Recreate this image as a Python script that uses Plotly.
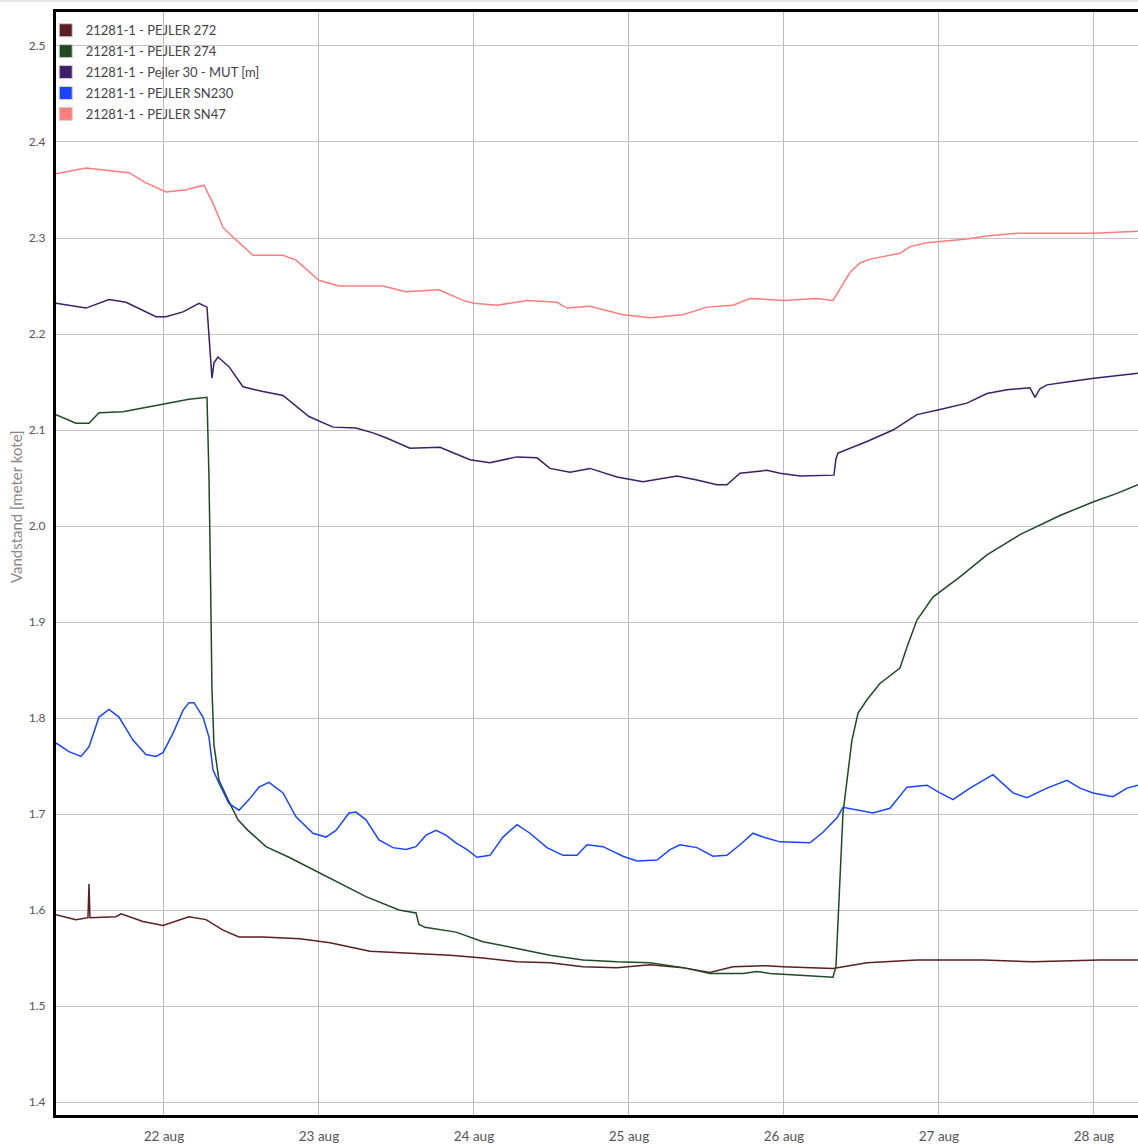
import pandas as pd
import plotly.graph_objects as go

START = pd.Timestamp("2021-08-21 00:00")

SERIES_NAMES = [
    "21281-1 - PEJLER 272",
    "21281-1 - PEJLER 274",
    "21281-1 - Pejler 30 - MUT [m]",
    "21281-1 - PEJLER SN230",
    "21281-1 - PEJLER SN47",
]
SERIES_COLORS = ["#5a1f22", "#1f4a24", "#3b1f68", "#1a45ff", "#ff7c7c"]

# Readings: hours after 21 aug 00:00, water level in metres
p272_h = [7.28, 10.37, 12.23, 12.39, 12.54, 16.57, 17.34, 20.75, 23.85, 27.87, 30.50,
          33.14, 35.61, 39.33, 45.06, 49.70, 55.90, 62.09, 68.28, 73.39, 78.66, 83.77,
          88.88, 94.14, 99.25, 104.36, 108.54, 112.10, 117.37, 119.85, 125.11, 127.59,
          132.85, 140.59, 150.81, 158.55, 168.93, 174.81]
p272_v = [1.595, 1.590, 1.592, 1.627, 1.592, 1.593, 1.596, 1.588, 1.584, 1.593, 1.590,
          1.579, 1.572, 1.572, 1.570, 1.566, 1.557, 1.555, 1.553, 1.550, 1.546, 1.545,
          1.541, 1.540, 1.543, 1.540, 1.535, 1.541, 1.542, 1.541, 1.540, 1.539,
          1.545, 1.548, 1.548, 1.546, 1.548, 1.548]

p274_h = [7.28, 10.37, 12.39, 13.94, 17.65, 21.68, 24.31, 27.87, 30.66, 30.97, 31.20,
          31.43, 31.74, 32.52, 33.91, 35.46, 37.01, 39.79, 43.35, 48.00, 51.10, 55.28,
          60.39, 63.02, 63.48, 64.41, 69.21, 73.39, 78.66, 83.77, 88.88, 94.14, 99.25,
          104.36, 108.54, 113.65, 115.82, 117.83, 122.48, 127.59, 128.05, 128.67,
          129.14, 129.76, 130.53, 131.46, 132.85, 134.86, 137.96, 139.05, 140.59,
          143.07, 147.25, 151.43, 156.54, 162.74, 167.85, 171.56, 174.81]
p274_v = [2.116, 2.107, 2.107, 2.118, 2.119, 2.124, 2.128, 2.132, 2.134, 2.050, 1.950,
          1.830, 1.772, 1.735, 1.715, 1.694, 1.683, 1.666, 1.655, 1.639, 1.628, 1.614,
          1.600, 1.597, 1.585, 1.582, 1.577, 1.567, 1.560, 1.553, 1.548, 1.546, 1.545,
          1.540, 1.534, 1.534, 1.536, 1.534, 1.532, 1.530, 1.541, 1.631,
          1.701, 1.735, 1.777, 1.805, 1.819, 1.836, 1.852, 1.874, 1.902,
          1.926, 1.947, 1.970, 1.991, 2.011, 2.025, 2.034, 2.043]

p30_h = [7.28, 11.92, 15.48, 18.12, 22.76, 24.31, 26.94, 29.42, 30.66, 30.97, 31.28,
         31.43, 31.74, 32.36, 34.06, 36.23, 39.33, 42.43, 46.45, 50.17, 53.73, 56.36,
         58.37, 62.09, 66.74, 71.38, 74.48, 78.66, 81.76, 83.77, 86.87, 89.96, 94.14,
         98.17, 103.43, 106.53, 109.63, 111.17, 113.19, 117.37, 119.38, 122.48, 127.74,
         128.05, 128.36, 130.22, 132.85, 136.88, 140.59, 144.00, 148.34, 151.43, 154.53,
         158.09, 158.86, 159.64, 160.72, 163.82, 168.00, 174.81]
p30_v = [2.232, 2.227, 2.236, 2.233, 2.218, 2.218, 2.223, 2.232, 2.228, 2.200, 2.170,
         2.154, 2.170, 2.176, 2.166, 2.145, 2.140, 2.136, 2.114, 2.103, 2.102, 2.097,
         2.092, 2.081, 2.082, 2.069, 2.066, 2.072, 2.071, 2.060, 2.056, 2.060, 2.051,
         2.046, 2.052, 2.048, 2.043, 2.043, 2.055, 2.058, 2.055, 2.052, 2.053,
         2.070, 2.076, 2.081, 2.088, 2.100, 2.116, 2.121, 2.128, 2.138, 2.142,
         2.144, 2.134, 2.143, 2.147, 2.150, 2.154, 2.159]

sn230_h = [7.28, 9.29, 11.15, 12.39, 13.94, 15.48, 17.03, 19.20, 21.21, 22.76, 23.85,
           25.39, 26.94, 27.87, 28.65, 30.04, 30.97, 31.59, 32.52, 34.06, 35.61, 37.16,
           38.71, 40.26, 42.43, 44.44, 47.07, 49.08, 50.63, 52.65, 53.73, 55.28, 57.29,
           59.46, 61.47, 63.02, 64.57, 66.12, 67.66, 69.21, 70.92, 72.46, 74.48, 76.49,
           78.66, 80.67, 83.30, 85.78, 87.95, 89.50, 91.98, 95.07, 97.24, 100.34,
           102.35, 103.90, 106.53, 109.01, 111.17, 113.19, 115.20, 116.75, 119.38,
           124.03, 126.04, 128.21, 129.14, 131.77, 133.78, 136.41, 139.05, 142.14,
           144.15, 146.17, 148.80, 152.36, 155.46, 157.63, 160.72, 163.82, 165.83,
           167.85, 170.94, 173.11, 174.81]
sn230_v = [1.774, 1.765, 1.760, 1.770, 1.801, 1.809, 1.801, 1.777, 1.762, 1.760, 1.764,
           1.784, 1.808, 1.816, 1.816, 1.801, 1.780, 1.746, 1.732, 1.711, 1.704, 1.715,
           1.728, 1.733, 1.722, 1.697, 1.680, 1.676, 1.683, 1.701, 1.702, 1.694, 1.673,
           1.665, 1.663, 1.666, 1.678, 1.683, 1.678, 1.670, 1.663, 1.655, 1.657, 1.676,
           1.689, 1.680, 1.665, 1.657, 1.657, 1.668, 1.666, 1.656, 1.651, 1.652,
           1.663, 1.668, 1.665, 1.656, 1.657, 1.668, 1.680, 1.676, 1.671,
           1.670, 1.681, 1.696, 1.707, 1.704, 1.701, 1.706, 1.728, 1.730,
           1.722, 1.715, 1.727, 1.741, 1.722, 1.717, 1.727, 1.735, 1.727,
           1.722, 1.718, 1.727, 1.730]

sn47_h = [7.28, 11.92, 15.64, 18.58, 21.06, 24.31, 27.25, 30.19, 31.59, 33.14, 35.15,
          37.78, 42.43, 44.44, 48.00, 51.10, 57.91, 61.47, 66.58, 70.30, 72.00, 75.56,
          80.21, 84.85, 86.40, 89.96, 95.07, 99.25, 104.36, 108.08, 112.10, 114.74,
          120.00, 125.11, 127.59, 129.14, 130.22, 131.77, 133.32, 137.96, 139.51,
          142.14, 144.00, 148.34, 151.43, 156.08, 168.00, 174.81]
sn47_v = [2.367, 2.373, 2.370, 2.368, 2.358, 2.348, 2.350, 2.355, 2.336, 2.311, 2.298,
          2.282, 2.282, 2.277, 2.256, 2.250, 2.250, 2.244, 2.246, 2.235, 2.232, 2.230,
          2.235, 2.233, 2.227, 2.229, 2.220, 2.217, 2.220, 2.228, 2.230, 2.237,
          2.235, 2.237, 2.235, 2.253, 2.264, 2.274, 2.278, 2.284, 2.291,
          2.295, 2.296, 2.299, 2.302, 2.305, 2.305, 2.307]

SERIES_HOURS = [p272_h, p274_h, p30_h, sn230_h, sn47_h]
SERIES_VALUES = [p272_v, p274_v, p30_v, sn230_v, sn47_v]

TICK_DAYS = [22, 23, 24, 25, 26, 27, 28]
TICK_LABELS = ["22 aug", "23 aug", "24 aug", "25 aug", "26 aug", "27 aug", "28 aug"]
Y_TICKS = [1.4, 1.5, 1.6, 1.7, 1.8, 1.9, 2.0, 2.1, 2.2, 2.3, 2.4, 2.5]


def to_time(hours):
    return START + pd.to_timedelta(hours, unit="h")


fig = go.Figure()

for name, color, hrs, vals in zip(SERIES_NAMES, SERIES_COLORS, SERIES_HOURS, SERIES_VALUES):
    fig.add_trace(go.Scatter(
        x=to_time(hrs), y=vals, mode="lines", name=name,
        line=dict(color=color, width=1.5), showlegend=False, legendgroup=name,
    ))

# square swatches for the legend
for name, color in zip(SERIES_NAMES, SERIES_COLORS):
    fig.add_trace(go.Scatter(
        x=[None], y=[None], mode="markers", name=name, legendgroup=name,
        marker=dict(symbol="square", size=13, color=color,
                    line=dict(color="#d0d0d0", width=1)),
    ))

tick_times = [START + pd.Timedelta(days=d - 21) for d in TICK_DAYS]

fig.update_layout(
    width=1138, height=1144,
    margin=dict(l=56, r=0, t=12, b=29),
    paper_bgcolor="white", plot_bgcolor="white",
    font=dict(family="Lato, 'Source Sans Pro', sans-serif", color="#555"),
    showlegend=True,
    legend=dict(
        x=-0.0095, y=0.997, xanchor="left", yanchor="top",
        bgcolor="rgba(0,0,0,0)", borderwidth=0,
        font=dict(size=13, color="#444"), itemwidth=30, tracegroupgap=1,
    ),
    xaxis=dict(
        range=[to_time(7.28), to_time(174.82)],
        tickvals=tick_times, ticktext=TICK_LABELS,
        tickfont=dict(size=13.5, color="#555"),
        ticks="outside", ticklen=7, tickcolor="rgba(0,0,0,0)",
        showgrid=True, gridcolor="#bdbdbd", gridwidth=1,
        showline=True, linecolor="black", linewidth=3, mirror=True,
        zeroline=False,
    ),
    yaxis=dict(
        range=[1.3865, 2.5354],
        tickvals=Y_TICKS, ticktext=[f"{v:.1f}" for v in Y_TICKS],
        tickfont=dict(size=12, color="#555"),
        ticks="outside", ticklen=5, tickcolor="rgba(0,0,0,0)",
        showgrid=True, gridcolor="#c4c4c4", gridwidth=1,
        showline=True, linecolor="black", linewidth=3, mirror=False,
        zeroline=False,
    ),
    annotations=[dict(
        text="Vandstand [meter kote]", xref="paper", yref="paper",
        x=-0.037, y=0.552, textangle=-90, showarrow=False,
        xanchor="center", yanchor="middle",
        font=dict(size=15, color="#888"),
    )],
    shapes=[dict(
        type="line", xref="paper", yref="paper",
        x0=-0.06, x1=1.0, y0=1.0099, y1=1.0099,
        line=dict(color="#e4e4e4", width=2),
    )],
)

fig.write_html("out.html")
